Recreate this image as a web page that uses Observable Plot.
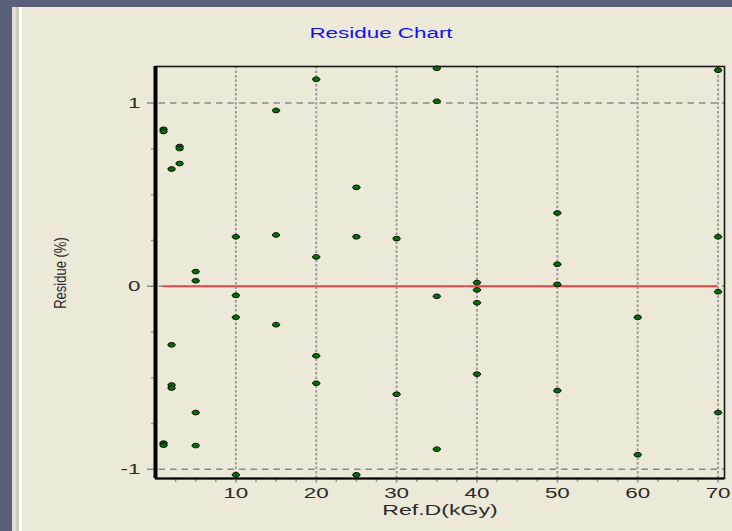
<!DOCTYPE html>
<html>
<head>
<meta charset="utf-8">
<script src="https://cdn.jsdelivr.net/npm/d3@7"></script>
<script src="https://cdn.jsdelivr.net/npm/@observablehq/plot@0.6"></script>
<style>
  html, body { margin: 0; padding: 0; }
  body { width: 732px; height: 531px; position: relative; overflow: hidden; background: #ECE9D8;
         font-family: "Liberation Sans", Arial, sans-serif; }
  .band { position: absolute; }
  .lbl { position: absolute; white-space: nowrap; text-align: center; }
</style>
</head>
<body>
<div class="band" style="left:0;top:0;width:732px;height:7px;background:#5A6079"></div>
<div class="band" style="left:0;top:0;width:12px;height:531px;background:#5A6079"></div>
<div class="band" style="left:12px;top:7px;width:4px;height:524px;background:#E3E0D3"></div>
<div class="band" style="left:16px;top:7px;width:3px;height:524px;background:#CFCBBC"></div>
<div class="band" style="left:19px;top:7px;width:3px;height:524px;background:#FFFFFF"></div>
<div id="chart"></div>
<div class="lbl" id="title" style="left:231px;width:300px;top:25px;font-size:14px;line-height:16px;color:#1010FF;transform:scaleX(1.6);">Residue Chart</div>
<div class="lbl" id="xlabel" style="left:290px;width:300px;top:502px;font-size:14px;line-height:16px;color:#2a2a2a;transform:scaleX(1.65);">Ref.D(kGy)</div>
<div class="lbl" id="ylabel" style="left:11px;width:100px;top:265px;font-size:13px;line-height:16px;color:#2a2a2a;transform:rotate(-90deg) scaleY(1.25);">Residue (%)</div>
<script>
// ---- data ----
const refDose = [1, 1, 1, 1, 2, 2, 2, 2, 3, 3, 3, 5, 5, 5, 5,
                 10, 10, 10, 10, 15, 15, 15, 20, 20, 20, 20,
                 25, 25, 25, 30, 30, 35, 35, 35, 35,
                 40, 40, 40, 40, 50, 50, 50, 50, 60, 60,
                 70, 70, 70, 70];
const residue = [0.857, 0.845, -0.857, -0.868, 0.64, -0.32, -0.54, -0.556, 0.763, 0.752, 0.67, 0.08, 0.03, -0.69, -0.87,
                 0.27, -0.05, -0.17, -1.03, 0.96, 0.28, -0.21, 1.13, 0.16, -0.38, -0.53,
                 0.54, 0.27, -1.03, 0.26, -0.59, 1.19, 1.01, -0.055, -0.89,
                 0.02, -0.02, -0.09, -0.48, 0.40, 0.12, 0.01, -0.57, -0.17, -0.92,
                 1.18, 0.27, -0.03, -0.69];
const xTicks = [10, 20, 30, 40, 50, 60, 70];
const yTicks = [-1, 0, 1];
const xMinor = d3.range(2.5, 70, 2.5).filter(v => v % 10 !== 0);
const yMinor = [-0.75, -0.5, -0.25, 0.25, 0.5, 0.75];
const xDomain = [0, 70.8];
const yDomain = [-1.05, 1.2];

const points = refDose.map((d, i) => ({dose: d, res: residue[i]}));
const xMin = d3.min(refDose), xMax = d3.max(refDose);

const ellipse = {
  draw(ctx, size) {
    const r = Math.sqrt(size / Math.PI);
    const rx = r * 1.6, ry = r, k = 0.5523;
    ctx.moveTo(rx, 0);
    ctx.bezierCurveTo(rx, ry * k, rx * k, ry, 0, ry);
    ctx.bezierCurveTo(-rx * k, ry, -rx, ry * k, -rx, 0);
    ctx.bezierCurveTo(-rx, -ry * k, -rx * k, -ry, 0, -ry);
    ctx.bezierCurveTo(rx * k, -ry, rx, -ry * k, rx, 0);
    ctx.closePath();
  }
};

const svg = Plot.plot({
  width: 732,
  height: 531,
  marginLeft: 155,
  marginRight: 8,
  marginTop: 66,
  marginBottom: 53,
  style: {background: "transparent", fontFamily: "'Liberation Sans', Arial, sans-serif", fontSize: "14px", color: "#2a2a2a", overflow: "visible"},
  x: {domain: xDomain},
  y: {domain: yDomain},
  marks: [
    // minor ticks
    Plot.axisX(xMinor, {tickSize: 4, tickFormat: () => "", stroke: "#9a9a9a", strokeWidth: 1.5, label: null}),
    Plot.axisY(yMinor, {tickSize: 4, tickFormat: () => "", stroke: "#9a9a9a", strokeWidth: 1.5, label: null}),
    // grid lines (extending past the axes as major ticks)
    Plot.ruleX(xTicks, {stroke: "#9c9c9c", strokeWidth: 2, strokeDasharray: "2.5,2", insetBottom: -5}),
    Plot.ruleY(yTicks, {stroke: "#8a8a8a", strokeWidth: 1.5, strokeDasharray: "6.5,5", insetLeft: -8}),
    // tick labels
    Plot.axisX(xTicks, {tickSize: 0, tickPadding: 10, tickFormat: d => String(d), fontSize: 14, label: null}),
    Plot.axisY(yTicks, {tickSize: 0, tickPadding: 15, tickFormat: d => String(d), fontSize: 14, label: null}),
    // frame
    Plot.frame({stroke: "#1a1a1a", strokeWidth: 1.6}),
    Plot.ruleX([xDomain[0]], {stroke: "#000", strokeWidth: 4}),
    Plot.ruleY([yDomain[0]], {stroke: "#000", strokeWidth: 2.2}),
    // zero line
    Plot.ruleY([0], {x1: xMin, x2: xMax, stroke: "#E84848", strokeWidth: 2}),
    // points
    Plot.dot(points, {x: "dose", y: "res", r: 2.3, symbol: ellipse, fill: "#007000", stroke: "#000", strokeWidth: 1})
  ]
});

svg.style.position = "absolute";
svg.style.left = "0px";
svg.style.top = "0px";
svg.querySelectorAll("text").forEach(t => {
  const tr = t.getAttribute("transform");
  if (tr) {
    t.setAttribute("transform", tr + " scale(1.6,1)");
  } else {
    const x = t.getAttribute("x") || 0;
    t.removeAttribute("x");
    t.setAttribute("transform", `translate(${x},0) scale(1.6,1)`);
  }
});
document.getElementById("chart").appendChild(svg);
</script>
</body>
</html>
